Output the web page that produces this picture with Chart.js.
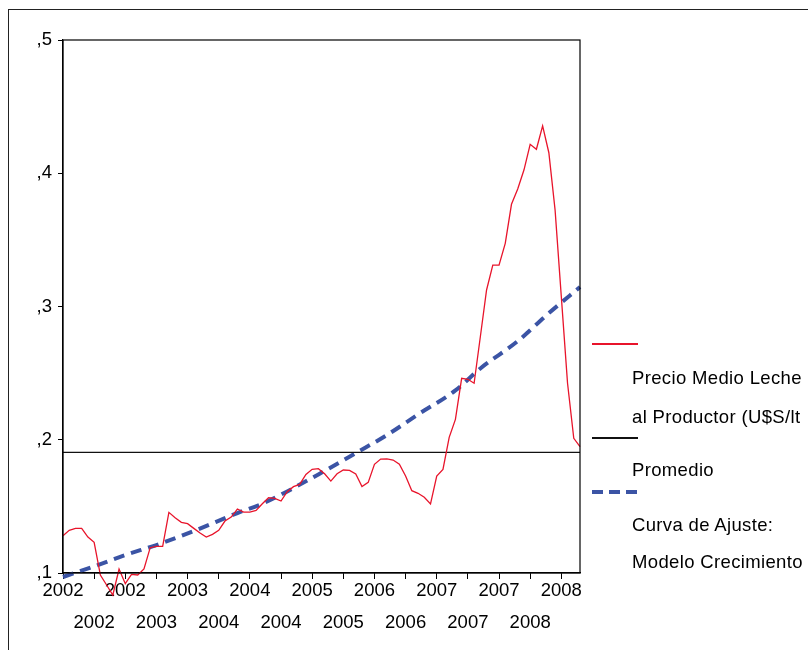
<!DOCTYPE html>
<html>
<head>
<meta charset="utf-8">
<script src="https://cdn.jsdelivr.net/npm/chart.js@4"></script>
<style>
  html, body { margin: 0; padding: 0; background: #fff; }
  body { width: 808px; height: 650px; position: relative; overflow: hidden; font-family: 'Liberation Sans', Arial, sans-serif; }
  #frame { position: absolute; left: 8px; top: 9px; width: 900px; height: 700px; border-left: 1.5px solid #222; border-top: 1.5px solid #222; }
  canvas { position: absolute; left: 0; top: 0; }
  .key { position: absolute; left: 592px; width: 46px; }
  .txt { position: absolute; left: 632px; height: 22px; line-height: 22px; font-size: 18.5px; letter-spacing: 0.35px; white-space: nowrap; color: #000; }
</style>
</head>
<body>
<div id="frame"></div>
<canvas id="chart" width="808" height="650"></canvas>
<div id="legend"></div>
<script>
// monthly series, Jan 2002 .. Dec 2008 (month index 0..83)
const priceValues = [
  0.128, 0.132, 0.1335, 0.1335, 0.127, 0.123, 0.0985, 0.091, 0.0835, 0.103, 0.092, 0.099,
  0.0985, 0.103, 0.119, 0.120, 0.120, 0.1455, 0.1415, 0.138, 0.137, 0.1335, 0.130, 0.127,
  0.129, 0.132, 0.139, 0.142, 0.148, 0.1457, 0.1457, 0.147, 0.152, 0.1565, 0.156, 0.154,
  0.161, 0.1648, 0.1665, 0.174, 0.1778, 0.1783, 0.1745, 0.169, 0.1745, 0.1773, 0.177, 0.1743,
  0.1648, 0.168, 0.1816, 0.1855, 0.1857, 0.1848, 0.1816, 0.1728, 0.1618, 0.1598, 0.1568, 0.1518,
  0.1728, 0.1778, 0.2018, 0.2153, 0.2461, 0.2454, 0.2424, 0.2773, 0.3124, 0.3311, 0.3311, 0.3474,
  0.3767, 0.3882, 0.4024, 0.4217, 0.418, 0.4355, 0.4154, 0.3724, 0.3074, 0.2424, 0.2011, 0.1948
];
const meanValue = 0.1906;

// fitted growth curve, read at a few months
const fitMonths = [0, 5, 10, 15, 21, 28, 32, 41, 47, 52, 57, 63, 67, 73, 78, 83];
const fitValues = [0.097, 0.105, 0.1135, 0.121, 0.1315, 0.145, 0.152, 0.174, 0.190, 0.2035, 0.219, 0.237, 0.2535, 0.274, 0.295, 0.3146];

const tickMonths = [0, 5, 10, 15, 20, 25, 30, 35, 40, 45, 50, 55, 60, 65, 70, 75, 80];
const tickYears = ['2002', '2002', '2002', '2003', '2003', '2004', '2004', '2004', '2005',
  '2005', '2006', '2006', '2007', '2007', '2007', '2008', '2008'];

const legendItems = [
  { lines: ['Precio Medio Leche', 'al Productor (U$S/lt'], color: '#e8142b', kind: 'solid' },
  { lines: ['Promedio'], color: '#111', kind: 'solid' },
  { lines: ['Curva de Ajuste:', 'Modelo Crecimiento'], color: '#3b54a5', kind: 'dash' }
];

const axisFont = { family: "'Liberation Sans', Arial, sans-serif", size: 18.5, lineHeight: '32px' };

const framePlugin = {
  id: 'frame',
  afterDraw(chart) {
    const { ctx, chartArea: a } = chart;
    ctx.save();
    ctx.strokeStyle = '#000';
    ctx.lineWidth = 1.2;
    ctx.strokeRect(a.left, a.top, a.right - a.left, a.bottom - a.top);
    ctx.restore();
  }
};

new Chart(document.getElementById('chart'), {
  type: 'line',
  data: {
    datasets: [
      {
        label: legendItems[0].lines.join(' '),
        data: priceValues.map((v, i) => ({ x: i, y: v })),
        borderColor: legendItems[0].color,
        borderWidth: 1.3,
        pointRadius: 0,
        tension: 0,
        clip: false
      },
      {
        label: legendItems[1].lines.join(' '),
        data: [{ x: 0, y: meanValue }, { x: priceValues.length - 1, y: meanValue }],
        borderColor: legendItems[1].color,
        borderWidth: 1.2,
        pointRadius: 0,
        clip: false
      },
      {
        label: legendItems[2].lines.join(' '),
        data: fitMonths.map((m, i) => ({ x: m, y: fitValues[i] })),
        borderColor: legendItems[2].color,
        borderWidth: 4,
        borderDash: [11, 7],
        borderCapStyle: 'butt',
        cubicInterpolationMode: 'monotone',
        pointRadius: 0,
        clip: false
      }
    ]
  },
  options: {
    responsive: false,
    animation: false,
    layout: { padding: { top: 40, right: 228, left: 0, bottom: 0 } },
    plugins: { legend: { display: false }, tooltip: { enabled: false } },
    scales: {
      x: {
        type: 'linear',
        min: 0,
        max: priceValues.length - 1,
        afterBuildTicks(scale) { scale.ticks = tickMonths.map(v => ({ value: v })); },
        afterFit(scale) { scale.height = 77; },
        grid: { drawOnChartArea: false, tickLength: 6, color: '#000', lineWidth: 1 },
        border: { color: '#000', width: 1.2 },
        ticks: {
          autoSkip: false,
          maxRotation: 0,
          padding: -4,
          color: '#000',
          font: axisFont,
          callback: (v, i) => (i % 2 ? ['', tickYears[i]] : tickYears[i])
        }
      },
      y: {
        min: 0.1,
        max: 0.5,
        afterFit(scale) { scale.width = 63; },
        grid: { drawOnChartArea: false, tickLength: 5, color: '#000', lineWidth: 1 },
        border: { color: '#000', width: 1.2 },
        ticks: {
          stepSize: 0.1,
          padding: 6,
          color: '#000',
          font: axisFont,
          callback: v => v.toFixed(1).replace('0.', ',')
        }
      }
    }
  },
  plugins: [framePlugin]
});

// legend at the right, built from legendItems
const keyTops = [343, 437, 492];
const textCenters = [[378, 417], [470], [525, 562]];
const legend = document.getElementById('legend');
legendItems.forEach((item, k) => {
  const key = document.createElement('div');
  key.className = 'key';
  if (item.kind === 'dash') {
    key.style.top = (keyTops[k] - 2) + 'px';
    key.style.height = '4px';
    key.style.background = `repeating-linear-gradient(90deg, ${item.color} 0 11px, transparent 11px 17px)`;
  } else {
    key.style.top = keyTops[k] + 'px';
    key.style.height = '1.5px';
    key.style.backgroundColor = item.color;
  }
  legend.appendChild(key);
  item.lines.forEach((line, j) => {
    const t = document.createElement('div');
    t.className = 'txt';
    t.style.top = (textCenters[k][j] - 11) + 'px';
    t.textContent = line;
    legend.appendChild(t);
  });
});
</script>
</body>
</html>
